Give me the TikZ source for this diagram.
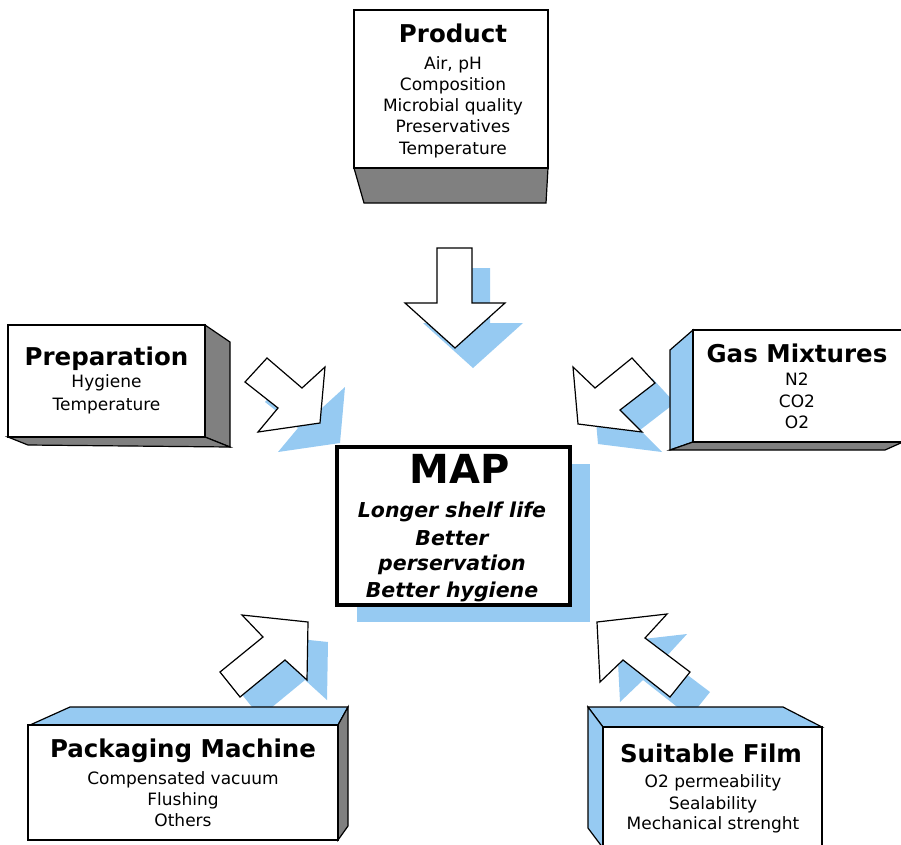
\documentclass[tikz,border=0pt]{standalone}
\usepackage{fontspec}
\setmainfont{DejaVu Sans}
\definecolor{shadowblue}{RGB}{150,202,242}
\definecolor{sidegray}{RGB}{128,128,128}
\begin{document}
\begin{tikzpicture}[x=1pt,y=-1pt,
  edge/.style={draw=black,line width=1.2pt,line join=miter},
  head/.style={font=\fontsize{24.5}{26}\selectfont\bfseries,anchor=base,inner sep=0pt},
  sub/.style={font=\fontsize{17}{19}\selectfont,anchor=base,inner sep=0pt},
  mapital/.style={font=\fontsize{20.5}{22}\selectfont\bfseries\itshape,anchor=base,inner sep=0pt},
  blockarrow/.style={draw=black,fill=white,line width=1.2pt,line join=miter},
  shade/.style={fill=shadowblue}
]
\useasboundingbox (0,0) rectangle (901,844);

% ---------- arrow shadows ----------
\begin{scope}[shift={(18,20)}]
  \fill[shade] (437,248) -- (472,248) -- (472,303) -- (505,303) -- (455,348) -- (405,303) -- (437,303) -- cycle;
\end{scope}
\begin{scope}[shift={(20,20)}]
  \fill[shade] (245,382) -- (267,358) -- (302,388) -- (325,367) -- (320,423) -- (258,432) -- (278,408) -- cycle;
  \fill[shade] (632,358) -- (655,383) -- (620,410) -- (642,432) -- (578,424) -- (573,367) -- (595,388) -- cycle;
  \fill[shade] (220,672) -- (263,637) -- (242,615) -- (308,622) -- (307,680) -- (285,660) -- (240,697) -- cycle;
  \fill[shade] (690,672) -- (645,638) -- (667,614) -- (597,622) -- (600,682) -- (623,660) -- (670,697) -- cycle;
\end{scope}

% ---------- block arrows ----------
\draw[blockarrow] (437,248) -- (472,248) -- (472,303) -- (505,303) -- (455,348) -- (405,303) -- (437,303) -- cycle;
\draw[blockarrow] (245,382) -- (267,358) -- (302,388) -- (325,367) -- (320,423) -- (258,432) -- (278,408) -- cycle;
\draw[blockarrow] (632,358) -- (655,383) -- (620,410) -- (642,432) -- (578,424) -- (573,367) -- (595,388) -- cycle;
\draw[blockarrow] (220,672) -- (263,637) -- (242,615) -- (308,622) -- (307,680) -- (285,660) -- (240,697) -- cycle;
\draw[blockarrow] (690,672) -- (645,638) -- (667,614) -- (597,622) -- (600,682) -- (623,660) -- (670,697) -- cycle;

% ---------- Product box ----------
\filldraw[edge,fill=sidegray] (354,168) -- (548,168) -- (546,203) -- (364,203) -- cycle;
\filldraw[edge,fill=white] (354,10) rectangle (548,168);
\node[head] (prodh) at (453,42) {Product};
\node[sub] (prod1) at (453,69) {Air, pH};
\node[sub] (prod2) at (453,90) {Composition};
\node[sub] (prod3) at (453,111) {Microbial quality};
\node[sub] (prod4) at (453,132) {Preservatives};
\node[sub] (prod5) at (453,154) {Temperature};

% ---------- Preparation box ----------
\filldraw[edge,fill=sidegray] (205,325) -- (230,342) -- (230,447) -- (205,437) -- cycle;
\filldraw[edge,fill=sidegray] (8,437) -- (205,437) -- (230,447) -- (28,445) -- cycle;
\filldraw[edge,fill=white] (8,325) rectangle (205,437);
\node[head] (preph) at (106.5,365) {Preparation};
\node[sub] (prep1) at (106.5,387) {Hygiene};
\node[sub] (prep2) at (106.5,410) {Temperature};

% ---------- Gas Mixtures box ----------
\filldraw[edge,fill=shadowblue] (670,350) -- (693,330) -- (693,442) -- (670,450) -- cycle;
\filldraw[edge,fill=sidegray] (693,442) -- (903,442) -- (885,450) -- (670,450) -- cycle;
\filldraw[edge,fill=white] (693,330) rectangle (904,442);
\node[head] (gash) at (797,362) {Gas Mixtures};
\node[sub] (gas1) at (797,385) {N2};
\node[sub] (gas2) at (797,407) {CO2};
\node[sub] (gas3) at (797,428) {O2};

% ---------- MAP box ----------
\fill[shade] (357,464) rectangle (590,622);
\draw[line width=3.5pt,fill=white] (337,447) rectangle (570,605);
\node[font=\fontsize{40}{42}\selectfont\bfseries,anchor=base,inner sep=0pt] (maph) at (460,483) {MAP};
\node[mapital] (map1) at (452,517) {Longer shelf life};
\node[mapital] (map2) at (452,545) {Better};
\node[mapital] (map3) at (452,570) {perservation};
\node[mapital] (map4) at (452,597) {Better hygiene};

% ---------- Packaging Machine box ----------
\filldraw[edge,fill=shadowblue] (30,725) -- (70,707) -- (348,707) -- (338,725) -- cycle;
\filldraw[edge,fill=sidegray] (338,725) -- (348,707) -- (348,826) -- (338,840) -- cycle;
\filldraw[edge,fill=white] (28,725) rectangle (338,840);
\node[head] (packh) at (183,757) {Packaging Machine};
\node[sub] (pack1) at (183,784) {Compensated vacuum};
\node[sub] (pack2) at (183,805) {Flushing};
\node[sub] (pack3) at (183,826) {Others};

% ---------- Suitable Film box ----------
\filldraw[edge,fill=shadowblue] (588,707) -- (783,707) -- (822,727) -- (603,727) -- cycle;
\filldraw[edge,fill=shadowblue] (588,707) -- (603,727) -- (603,848) -- (588,828) -- cycle;
\filldraw[edge,fill=white] (603,727) rectangle (822,848);
\node[head] (filmh) at (711,762) {Suitable Film};
\node[sub] (film1) at (713,787) {O2 permeability};
\node[sub] (film2) at (713,809) {Sealability};
\node[sub] (film3) at (713,829) {Mechanical strenght};
\end{tikzpicture}
\end{document}
